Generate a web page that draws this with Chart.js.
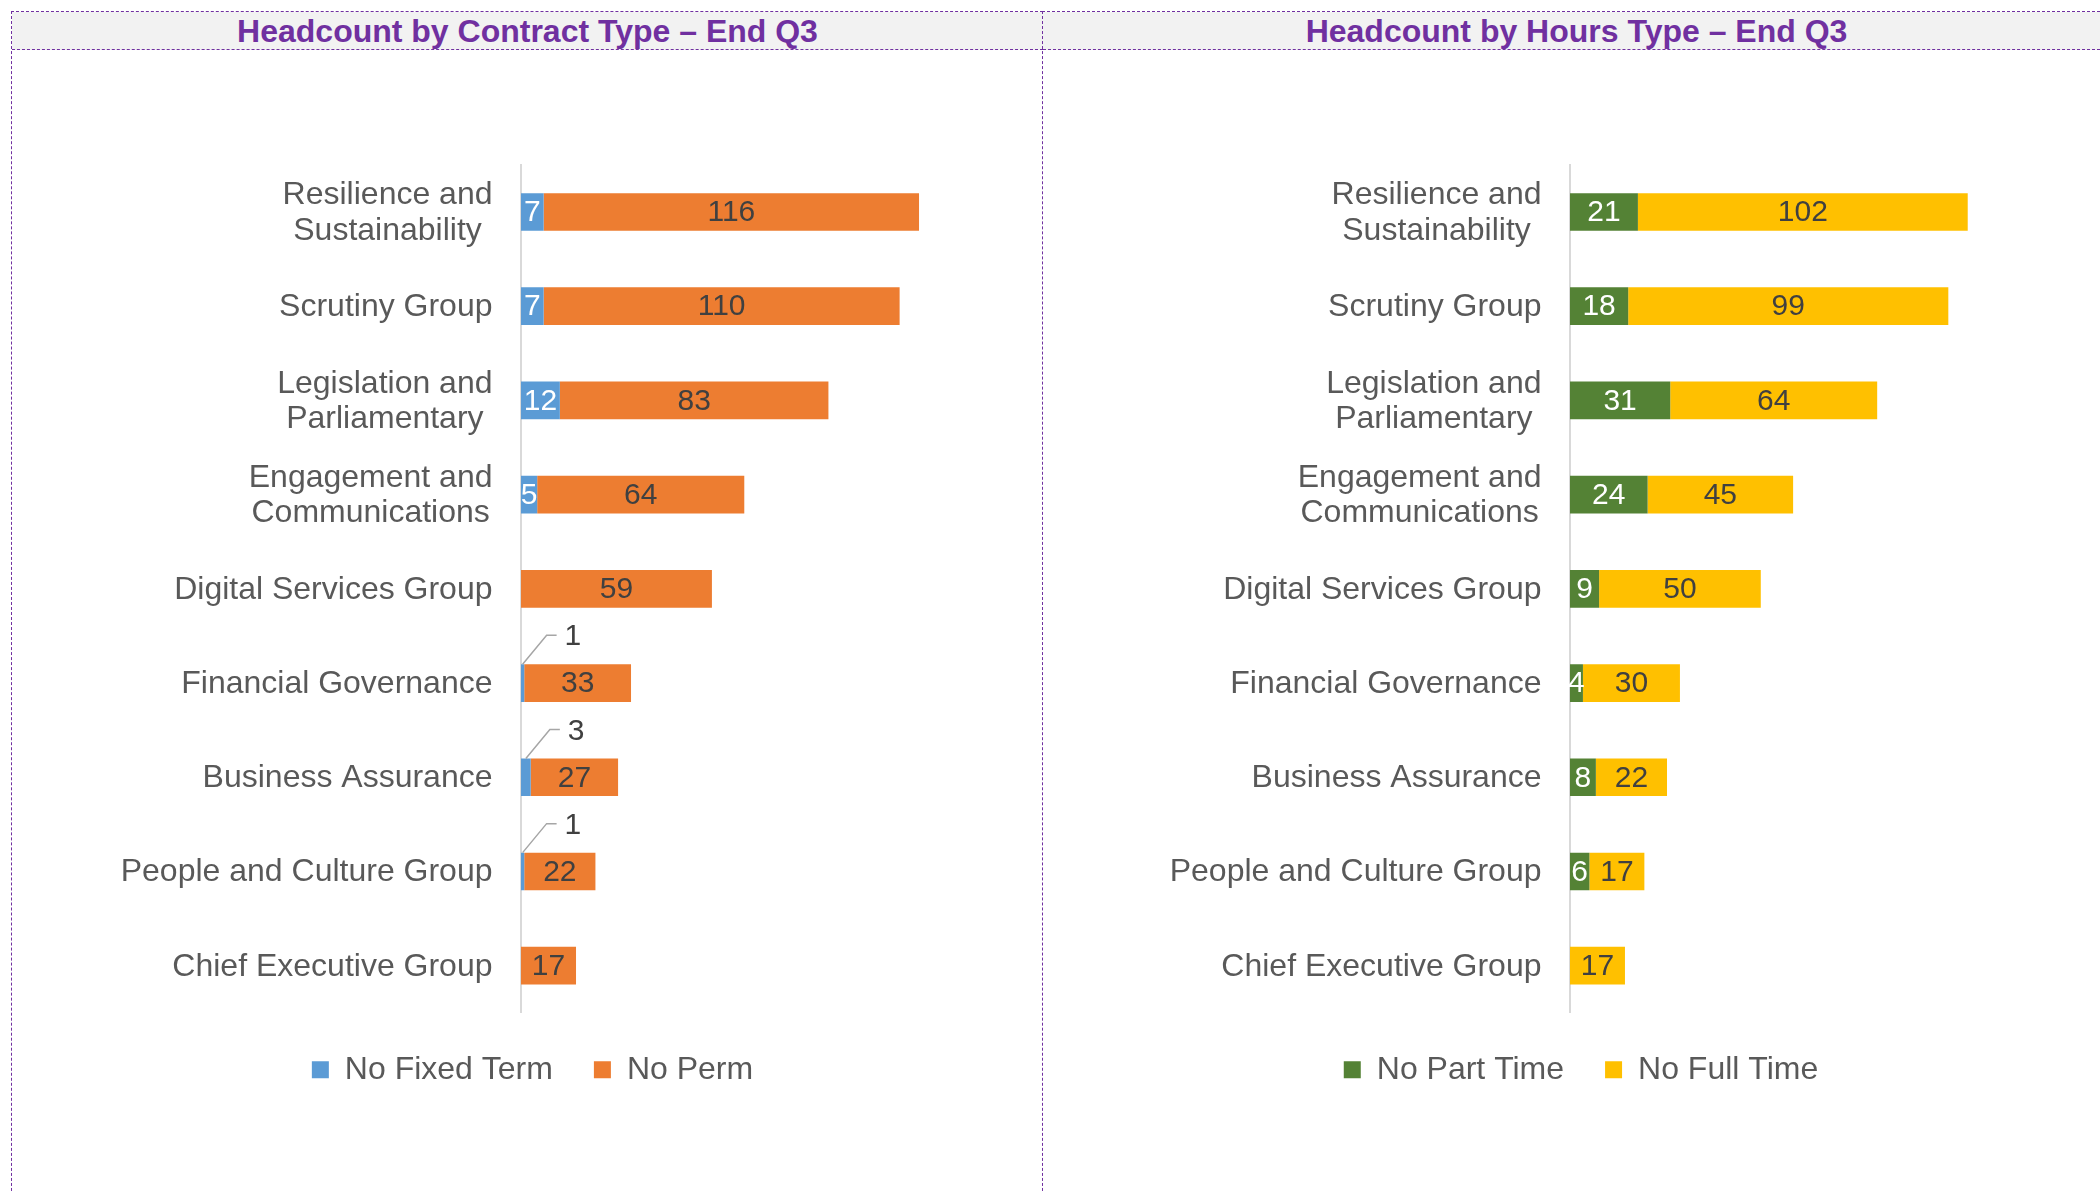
<!DOCTYPE html>
<html><head><meta charset="utf-8">
<script src="https://cdn.jsdelivr.net/npm/chart.js@4.4.1/dist/chart.umd.min.js"></script>
<style>
html,body{margin:0;padding:0;background:#fff;overflow:hidden;width:2100px;height:1191px;}
.panel{position:absolute;top:11px;height:1200px;border-left:1px dashed #7030a0;border-top:1px dashed #7030a0;box-sizing:border-box;}
.tbar{position:absolute;left:0;right:0;top:0;height:37px;background:#f2f2f2;border-bottom:1px dashed #7030a0;font:bold 32px "Liberation Sans",Arial,sans-serif;color:#7030a0;text-align:center;line-height:38px;}
canvas{position:absolute;top:50px;}
</style></head>
<body>
<div class="panel" style="left:11px;width:1032px"><div class="tbar">Headcount by Contract Type – End Q3</div></div>
<div class="panel" style="left:1042px;width:1068px"><div class="tbar">Headcount by Hours Type – End Q3</div></div>
<canvas id="c1" width="1031" height="1141" style="left:11px"></canvas>
<canvas id="c2" width="1068" height="1141" style="left:1042px"></canvas>
<script>
const categories = [["Resilience and","Sustainability"],"Scrutiny Group",["Legislation and","Parliamentary"],["Engagement and","Communications"],"Digital Services Group","Financial Governance","Business Assurance","People and Culture Group","Chief Executive Group"];
const fixedTerm = [7,7,12,5,0,1,3,1,0];
const perm = [116,110,83,64,59,33,27,22,17];
const partTime = [21,18,31,24,9,4,8,6,0];
const fullTime = [102,99,64,45,50,30,22,17,17];
const seriesNamesContract = ["No Fixed Term","No Perm"];
const seriesNamesHours = ["No Part Time","No Full Time"];
const CALLOUT_MAX = 3;

const FONT = '"Liberation Sans", Arial, sans-serif';
const LABEL_GRAY = '#595959';
const DARK = '#404040';

const yLabels = {
  id:'yLabels',
  afterDraw(chart){
    const ctx = chart.ctx, sc = chart.scales.y;
    const right = chart.chartArea.left - 28.5;
    ctx.save();
    ctx.font = '32px ' + FONT;
    ctx.fillStyle = LABEL_GRAY;
    ctx.textBaseline = 'middle';
    ctx.textAlign = 'center';
    chart.data.labels.forEach((lab,i)=>{
      const lines = Array.isArray(lab) ? lab : [lab];
      const w = Math.max(...lines.map(l=>ctx.measureText(l).width));
      const cx = right - w/2;
      const cy = sc.getPixelForValue(i);
      const lh = 35.5;
      lines.forEach((l,k)=>{
        ctx.fillText(l, cx, cy + (k-(lines.length-1)/2)*lh + 1);
      });
    });
    ctx.restore();
  }
};

const valueLabels = {
  id:'valueLabels',
  afterDatasetsDraw(chart){
    const ctx = chart.ctx;
    chart.data.datasets.forEach((ds,di)=>{
      const meta = chart.getDatasetMeta(di);
      meta.data.forEach((bar,i)=>{
        const v = ds.data[i];
        if(!v) return;
        const p = bar.getProps(['x','y','base','height'], true);
        const cx = (p.x + p.base)/2;
        ctx.save();
        ctx.font = '30px ' + FONT;
        ctx.textBaseline = 'middle';
        if (v <= CALLOUT_MAX) {
          const top = p.y - p.height/2;
          const ex = cx + 24, ey = top - 29;
          ctx.strokeStyle = '#a6a6a6';
          ctx.lineWidth = 1.5;
          ctx.beginPath();
          ctx.moveTo(cx, top);
          ctx.lineTo(ex, ey);
          ctx.lineTo(ex + 10, ey);
          ctx.stroke();
          ctx.fillStyle = DARK;
          ctx.textAlign = 'left';
          ctx.fillText(String(v), ex + 18, ey + 2);
        } else {
          ctx.fillStyle = ds.labelColor;
          ctx.textAlign = 'center';
          ctx.fillText(String(v), cx, p.y + 1);
        }
        ctx.restore();
      });
    });
  }
};

function makeChart(id, names, a, b, colA, colB, labA, labB, padLeft, yWidth, xMax){
  return new Chart(document.getElementById(id), {
    type:'bar',
    data:{
      labels: categories,
      datasets:[
        {label:names[0], data:a, backgroundColor:colA, labelColor:labA, borderWidth:0, categoryPercentage:1, barPercentage:0.4},
        {label:names[1], data:b, backgroundColor:colB, labelColor:labB, borderWidth:0, categoryPercentage:1, barPercentage:0.4}
      ]
    },
    options:{
      indexAxis:'y',
      responsive:false,
      animation:false,
      devicePixelRatio:1,
      layout:{padding:{left:padLeft, right:0, top:114.9, bottom:95.2}},
      scales:{
        x:{stacked:true, display:false, min:0, max:xMax},
        y:{stacked:true, grid:{display:false, drawTicks:false},
           border:{display:true, color:'#d9d9d9', width:2},
           ticks:{display:false},
           afterFit(s){ s.width = yWidth; }}
      },
      plugins:{
        tooltip:{enabled:false},
        title:{display:false},
        legend:{
          position:'bottom',
          labels:{font:{family:FONT, size:32}, color:LABEL_GRAY, boxWidth:17, boxHeight:17, padding:41}
        }
      }
    },
    plugins:[yLabels, valueLabels]
  });
}

makeChart('c1', seriesNamesContract, fixedTerm, perm, '#5b9bd5', '#ed7d31', '#ffffff', DARK, 12, 498, 161);
makeChart('c2', seriesNamesHours, partTime, fullTime, '#548235', '#ffc000', '#ffffff', DARK, 10, 518, 167);
</script>
</body></html>
